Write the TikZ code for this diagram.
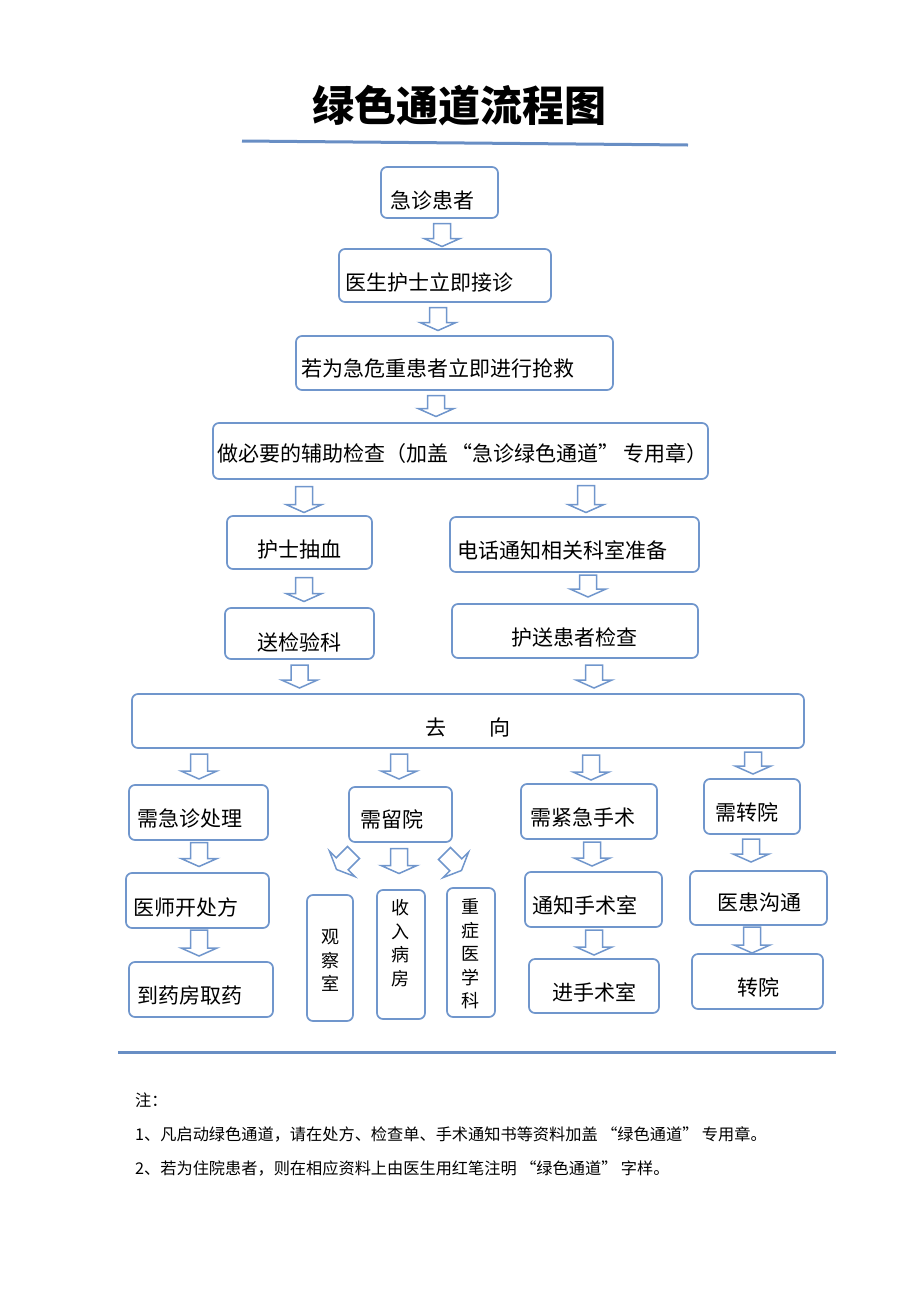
\documentclass[tikz,border=0pt]{standalone}
\usepackage{fontspec}
\setmainfont{Noto Sans CJK SC}
\newfontfamily\fwq[RawFeature=+fwid]{Noto Sans CJK SC}
\newcommand{\lqq}{{\fwq \hspace{3.5pt}“}}
\newcommand{\rqq}{{\fwq ”\hspace{3.5pt}}}
\definecolor{bline}{RGB}{112,150,204}
\definecolor{rule}{RGB}{104,142,196}
\tikzset{
  box/.style={draw=bline, line width=1.7pt, rounded corners=6pt, inner sep=0pt},
  barrow/.style={draw=bline, line width=1.5pt, fill=white, line join=miter},
  txt/.style={anchor=west, inner sep=0pt, font=\fontsize{21}{21}\selectfont},
  vtxt/.style={inner sep=0pt, align=center, font=\fontsize{18}{23.5}\selectfont},
  note/.style={anchor=west, inner sep=0pt, font=\fontsize{16.2}{16}\selectfont},
}
\newcommand{\bx}[5]{\node[box, minimum width={(#4-#2)*1pt}, minimum height={(#5-#3)*1pt}] (#1) at ({(#2+#4)/2},{(#3+#5)/2}) {};}
\newcommand{\blk}[4]{\draw[barrow, shift={(#1,#2)}, rotate=#4] (-8.5,{-#3/2}) -- (8.5,{-#3/2}) -- (8.5,{#3/2-8}) -- (18,{#3/2-8}) -- (0,{#3/2}) -- (-18,{#3/2-8}) -- (-8.5,{#3/2-8}) -- cycle;}
\begin{document}
\begin{tikzpicture}[x=1pt,y=-1pt]
\useasboundingbox (0,0) rectangle (920,1302);
% title
\node[inner sep=0pt, font=\fontsize{42}{42}\selectfont\bfseries] (title) at (459,106) {绿色通道流程图};
\coordinate (r1a) at (242,141); \coordinate (r1b) at (688,145);
\draw[rule, line width=3pt] (r1a) -- (r1b);
% boxes
\bx{b1}{381}{167}{498}{218}
\bx{b2}{339}{249}{551}{302}
\bx{b3}{296}{336}{613}{390}
\bx{b4}{213}{423}{708}{479}
\bx{b5}{227}{516}{372}{569}
\bx{b6}{450}{517}{699}{572}
\bx{b7}{225}{608}{374}{659}
\bx{b8}{452}{604}{698}{658}
\bx{b9}{132}{694}{804}{748}
\bx{c1}{129}{785}{268}{840}
\bx{c2}{349}{787}{452}{842}
\bx{c3}{521}{784}{657}{839}
\bx{c4}{704}{779}{800}{834}
\bx{d1}{126}{873}{269}{928}
\bx{d3}{525}{872}{662}{927}
\bx{d4}{690}{871}{827}{925}
\bx{e1}{129}{962}{273}{1017}
\bx{e3}{529}{959}{659}{1013}
\bx{e4}{692}{954}{823}{1009}
\bx{v1}{307}{895}{353}{1021}
\bx{v2}{377}{890}{425}{1019}
\bx{v3}{447}{888}{495}{1017}
% texts
\node[txt] (t1) at (390,200) {急诊患者};
\node[txt] (t2) at (345,282) {医生护士立即接诊};
\node[txt] (t3) at (301,368) {若为急危重患者立即进行抢救};
\node[txt] (t4) at (217,454) {做必要的辅助检查（加盖\lqq 急诊绿色通道\rqq 专用章）};
\node[txt] (t5) at (257,550) {护士抽血};
\node[txt] (t6) at (457,550) {电话通知相关科室准备};
\node[txt] (t7) at (257,642) {送检验科};
\node[txt] (t8) at (511,637) {护送患者检查};
\node[txt, anchor=center] (t9) at (468,727) {去\hspace{43pt}向};
\node[txt] (u1) at (137,818) {需急诊处理};
\node[txt] (u2) at (360,819) {需留院};
\node[txt] (u3) at (530,817) {需紧急手术};
\node[txt] (u4) at (715,812) {需转院};
\node[txt] (w1) at (133,907) {医师开处方};
\node[txt] (w3) at (532,905) {通知手术室};
\node[txt] (w4) at (717,903) {医患沟通};
\node[txt] (x1) at (137,995) {到药房取药};
\node[txt] (x3) at (552,992) {进手术室};
\node[txt] (x4) at (737,987) {转院};
\node[vtxt] (y1) at (330,960.5) {观\\察\\室};
\node[vtxt] (y2) at (400,943) {收\\入\\病\\房};
\node[vtxt] (y3) at (470,954) {重\\症\\医\\学\\科};
% block arrows
\blk{442}{235}{23}{0}
\blk{438}{319}{23}{0}
\blk{436}{406}{21}{0}
\blk{304}{499.5}{26}{0}
\blk{586}{499}{27}{0}
\blk{304}{589.5}{24}{0}
\blk{588}{586}{22}{0}
\blk{299.5}{676.5}{23}{0}
\blk{594}{676.5}{23}{0}
\blk{199}{766.5}{25}{0}
\blk{399}{766.5}{25}{0}
\blk{591}{767.5}{25}{0}
\blk{753}{763}{22}{0}
\blk{199}{854.5}{24}{0}
\blk{592}{854}{24}{0}
\blk{751}{850.5}{23}{0}
\blk{345}{861}{24}{-45}
\blk{399}{861}{25}{0}
\blk{453}{862}{24}{45}
\blk{199}{943}{26}{0}
\blk{594}{942.5}{25}{0}
\blk{752}{940}{26}{0}
% bottom rule
\coordinate (r2a) at (118,1052); \coordinate (r2b) at (836,1052);
\draw[rule, line width=3pt] (r2a) -- (r2b);
% notes
\node[note] (n0) at (135,1100) {注：};
\node[note] (n1) at (135,1134) {1、凡启动绿色通道，请在处方、检查单、手术通知书等资料加盖\lqq 绿色通道\rqq 专用章。};
\node[note] (n2) at (135,1168) {2、若为住院患者，则在相应资料上由医生用红笔注明\lqq 绿色通道\rqq 字样。};
\end{tikzpicture}
\end{document}
